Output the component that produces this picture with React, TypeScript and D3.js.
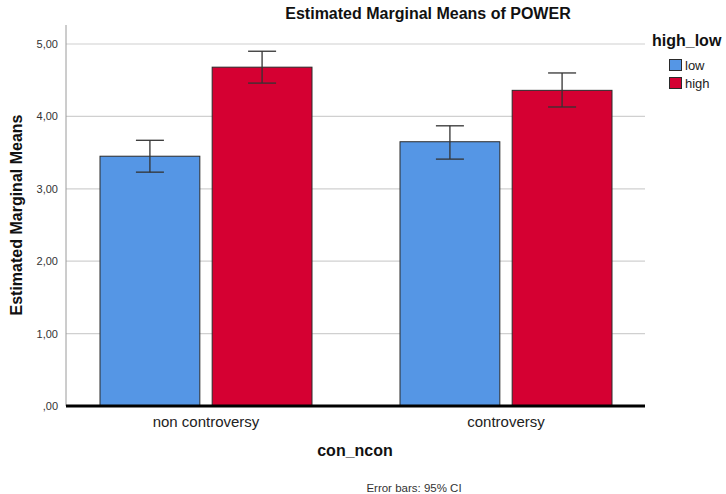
import { useEffect, useRef } from 'react'
import * as d3 from 'd3'

const categories = ['non controversy', 'controversy']
const groups = ['low', 'high']
const lowMeans = [3.45, 3.65]
const lowLower = [3.23, 3.41]
const lowUpper = [3.67, 3.87]
const highMeans = [4.68, 4.36]
const highLower = [4.46, 4.13]
const highUpper = [4.90, 4.60]
const yTicks = [0, 1, 2, 3, 4, 5]
const colors = ['#5596e5', '#d50032']

const W = 726
const H = 494

export default function App() {
  const svgRef = useRef<SVGSVGElement>(null)

  useEffect(() => {
    const svg = d3.select(svgRef.current)
    svg.selectAll('*').remove()
    const font = '"Liberation Sans", Arial, sans-serif'

    const plotLeft = 66
    const plotRight = 645
    const plotTop = 25
    const y = d3.scaleLinear().domain([0, 5]).range([406, 44])
    const x0 = d3.scaleBand<string>().domain(categories).range([56, 656])
    const x1 = d3.scaleBand<string>().domain(groups).range([0, 212]).paddingInner(0.11)
    const groupOffset = (x0.bandwidth() - 212) / 2

    const rows = categories.flatMap((c, i) => [
      { cat: c, grp: 'low', mean: lowMeans[i], lo: lowLower[i], hi: lowUpper[i], color: colors[0] },
      { cat: c, grp: 'high', mean: highMeans[i], lo: highLower[i], hi: highUpper[i], color: colors[1] },
    ])

    // gridlines
    svg.append('g')
      .selectAll('line')
      .data(yTicks.filter(t => t > 0))
      .enter().append('line')
      .attr('x1', plotLeft).attr('x2', plotRight)
      .attr('y1', d => y(d)).attr('y2', d => y(d))
      .attr('stroke', '#d0d0d0').attr('stroke-width', 1.2)

    // y axis
    svg.append('line')
      .attr('x1', plotLeft).attr('x2', plotLeft)
      .attr('y1', plotTop).attr('y2', y(0))
      .attr('stroke', '#9a9a9a').attr('stroke-width', 1)

    svg.append('g')
      .selectAll('text')
      .data(yTicks)
      .enter().append('text')
      .attr('x', 58).attr('y', d => y(d) + 4)
      .attr('text-anchor', 'end')
      .attr('font-family', font).attr('font-size', 11).attr('fill', '#333')
      .text(d => d === 0 ? ',00' : d3.format('.2f')(d).replace('.', ','))

    // bars
    const bx = (r: { cat: string, grp: string }) => (x0(r.cat) ?? 0) + groupOffset + (x1(r.grp) ?? 0)
    svg.append('g')
      .selectAll('rect')
      .data(rows)
      .enter().append('rect')
      .attr('x', d => bx(d)).attr('width', x1.bandwidth())
      .attr('y', d => y(d.mean)).attr('height', d => y(0) - y(d.mean))
      .attr('fill', d => d.color)
      .attr('stroke', '#2a2a2a').attr('stroke-width', 1)

    // error bars
    const eb = svg.append('g').attr('stroke', '#333').attr('stroke-width', 1.3)
    rows.forEach(r => {
      const cx = bx(r) + x1.bandwidth() / 2
      eb.append('line').attr('x1', cx).attr('x2', cx).attr('y1', y(r.hi)).attr('y2', y(r.lo))
      eb.append('line').attr('x1', cx - 14).attr('x2', cx + 14).attr('y1', y(r.hi)).attr('y2', y(r.hi))
      eb.append('line').attr('x1', cx - 14).attr('x2', cx + 14).attr('y1', y(r.lo)).attr('y2', y(r.lo))
    })

    // baseline
    svg.append('line')
      .attr('x1', plotLeft).attr('x2', plotRight)
      .attr('y1', y(0)).attr('y2', y(0))
      .attr('stroke', '#000').attr('stroke-width', 3)

    // category labels
    svg.append('g')
      .selectAll('text')
      .data(categories)
      .enter().append('text')
      .attr('x', d => (x0(d) ?? 0) + x0.bandwidth() / 2).attr('y', 427)
      .attr('text-anchor', 'middle')
      .attr('font-family', font).attr('font-size', 15).attr('fill', '#222')
      .text(d => d)

    // titles
    svg.append('text')
      .attr('x', 428).attr('y', 19)
      .attr('text-anchor', 'middle')
      .attr('font-family', font).attr('font-size', 16).attr('font-weight', 'bold').attr('fill', '#111')
      .text('Estimated Marginal Means of POWER')

    svg.append('text')
      .attr('x', 355).attr('y', 456)
      .attr('text-anchor', 'middle')
      .attr('font-family', font).attr('font-size', 16).attr('font-weight', 'bold').attr('fill', '#111')
      .text('con_ncon')

    svg.append('text')
      .attr('transform', 'translate(22,215) rotate(-90)')
      .attr('text-anchor', 'middle')
      .attr('font-family', font).attr('font-size', 16).attr('font-weight', 'bold').attr('fill', '#111')
      .text('Estimated Marginal Means')

    svg.append('text')
      .attr('x', 414).attr('y', 492)
      .attr('text-anchor', 'middle')
      .attr('font-family', font).attr('font-size', 11.5).attr('fill', '#333')
      .text('Error bars: 95% CI')

    // legend
    svg.append('text')
      .attr('x', 652).attr('y', 46)
      .attr('font-family', font).attr('font-size', 16).attr('font-weight', 'bold').attr('fill', '#111')
      .text('high_low')

    const lg = svg.append('g')
      .selectAll('g')
      .data(groups)
      .enter().append('g')
      .attr('transform', (_, i) => `translate(669.5,${59.5 + i * 18})`)
    lg.append('rect')
      .attr('width', 12).attr('height', 11)
      .attr('fill', (_, i) => colors[i])
      .attr('stroke', '#2a2a2a').attr('stroke-width', 1)
    lg.append('text')
      .attr('x', 15.5).attr('y', 10.5)
      .attr('font-family', font).attr('font-size', 13).attr('fill', '#222')
      .text(d => d)
  }, [])

  return (
    <div style={{ position: 'fixed', left: 0, top: 0 }}>
      <svg ref={svgRef} width={W} height={H} style={{ display: 'block', background: '#fff' }} />
    </div>
  )
}
